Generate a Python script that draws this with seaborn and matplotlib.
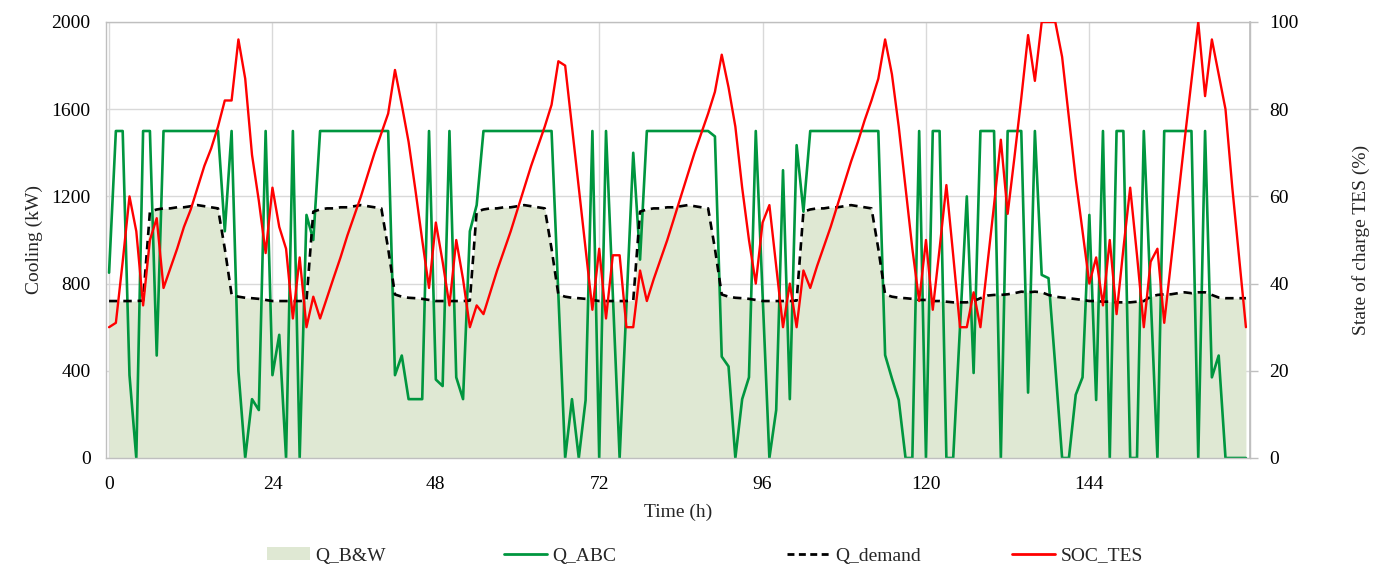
import matplotlib
matplotlib.use("Agg")
import matplotlib.pyplot as plt
import seaborn as sns
import numpy as np
from matplotlib.patches import Patch
from matplotlib.lines import Line2D

# ---------------- data (hourly, 0..167 h) ----------------
hours = list(range(168))

# Q_ABC (kW), one list per day
q_abc_d1 = [850, 1500, 1500, 380, 0, 1500, 1500, 470, 1500, 1500, 1500, 1500,
            1500, 1500, 1500, 1500, 1500, 1040, 1500, 400, 0, 270, 220, 1500]
q_abc_d2 = [380, 565, 0, 1500, 0, 1115, 1000, 1500, 1500, 1500, 1500, 1500,
            1500, 1500, 1500, 1500, 1500, 1500, 380, 470, 270, 270, 270, 1500]
q_abc_d3 = [360, 330, 1500, 370, 270, 1040, 1160, 1500, 1500, 1500, 1500, 1500,
            1500, 1500, 1500, 1500, 1500, 1500, 750, 0, 270, 0, 265, 1500]
q_abc_d4 = [0, 1500, 750, 0, 700, 1400, 910, 1500, 1500, 1500, 1500, 1500,
            1500, 1500, 1500, 1500, 1500, 1475, 465, 420, 0, 270, 370, 1500]
q_abc_d5 = [750, 0, 220, 1320, 270, 1435, 1130, 1500, 1500, 1500, 1500, 1500,
            1500, 1500, 1500, 1500, 1500, 1500, 472, 365, 266, 0, 0, 1500]
q_abc_d6 = [0, 1500, 1500, 0, 0, 600, 1200, 390, 1500, 1500, 1500, 0,
            1500, 1500, 1500, 300, 1500, 840, 825, 420, 0, 0, 290, 370]
q_abc_d7 = [1115, 266, 1500, 0, 1500, 1500, 0, 0, 1500, 750, 0, 1500,
            1500, 1500, 1500, 1500, 0, 1500, 370, 470, 0, 0, 0, 0]

# Q_demand (kW), one list per day
q_dem_d1 = [720, 720, 720, 720, 720, 722, 1130, 1140, 1145, 1145, 1150, 1150,
            1155, 1160, 1155, 1150, 1145, 960, 750, 740, 735, 733, 730, 725]
q_dem_d2 = [720, 720, 720, 720, 720, 722, 1130, 1140, 1145, 1145, 1150, 1150,
            1155, 1160, 1155, 1150, 1145, 960, 750, 740, 735, 733, 730, 725]
q_dem_d3 = [720, 720, 720, 720, 720, 722, 1130, 1140, 1145, 1145, 1150, 1150,
            1155, 1160, 1155, 1150, 1145, 960, 750, 740, 735, 733, 730, 725]
q_dem_d4 = [720, 720, 720, 720, 720, 722, 1130, 1140, 1145, 1145, 1150, 1150,
            1155, 1160, 1155, 1150, 1145, 960, 750, 740, 735, 733, 730, 725]
q_dem_d5 = [720, 720, 720, 720, 720, 722, 1130, 1140, 1145, 1145, 1150, 1150,
            1155, 1160, 1155, 1150, 1145, 960, 750, 740, 735, 733, 730, 725]
q_dem_d6 = [725, 720, 720, 717, 714, 714, 714, 720, 733, 745, 748, 748,
            751, 756, 763, 760, 763, 760, 748, 740, 736, 733, 729, 725]
q_dem_d7 = [720, 720, 717, 717, 714, 714, 714, 717, 720, 740, 748, 751,
            751, 756, 760, 756, 760, 760, 748, 736, 733, 733, 733, 733]

# Q_B&W (kW) – area, follows the demand curve
q_bw_d1 = q_dem_d1
q_bw_d2 = q_dem_d2
q_bw_d3 = q_dem_d3
q_bw_d4 = q_dem_d4
q_bw_d5 = q_dem_d5
q_bw_d6 = q_dem_d6
q_bw_d7 = q_dem_d7

# SOC_TES (%), one list per day
soc_d1 = [30, 31, 45, 60, 52, 35, 50, 55, 39, 43.5, 48, 53,
          57, 62, 67, 71, 76, 82, 82, 96, 87, 69.5, 59, 47]
soc_d2 = [62, 53, 48, 32, 46, 30, 37, 32, 36.7, 41.4, 46, 51,
          55.5, 60, 65, 70, 74.5, 79, 89, 81, 72.5, 61.5, 50, 39]
soc_d3 = [54, 45, 35, 50, 41, 30, 35, 33, 38, 43, 47.5, 52,
          57, 62, 67, 71.5, 76, 81, 91, 90, 76, 62, 48, 34]
soc_d4 = [48, 32, 46.5, 46.5, 30, 30, 43, 36, 41, 45.5, 50, 55,
          60, 65, 70, 74.5, 79, 84, 92.5, 85, 76, 62, 50, 40]
soc_d5 = [54, 58, 44, 30, 40, 30, 43, 39, 44, 48.5, 53, 58,
          63, 68, 72.5, 77.5, 82, 87, 96, 88, 76, 62, 48, 36]
soc_d6 = [50, 34, 48, 62.6, 46.5, 30, 30, 38, 30, 44, 58, 73,
          56, 69, 82.5, 97, 86.5, 100, 100, 100, 92, 78, 64, 52]
soc_d7 = [40, 46, 35, 50, 33, 48, 62, 46.5, 30, 45, 48, 31,
          45, 59, 73, 86.5, 100, 83, 96, 88, 80, 62, 46, 30]

q_abc = q_abc_d1 + q_abc_d2 + q_abc_d3 + q_abc_d4 + q_abc_d5 + q_abc_d6 + q_abc_d7
q_demand = q_dem_d1 + q_dem_d2 + q_dem_d3 + q_dem_d4 + q_dem_d5 + q_dem_d6 + q_dem_d7
q_bw = q_bw_d1 + q_bw_d2 + q_bw_d3 + q_bw_d4 + q_bw_d5 + q_bw_d6 + q_bw_d7
soc_tes = soc_d1 + soc_d2 + soc_d3 + soc_d4 + soc_d5 + soc_d6 + soc_d7

x_ticks = [0, 24, 48, 72, 96, 120, 144]
y_left_ticks = [0, 400, 800, 1200, 1600, 2000]
y_right_ticks = [0, 20, 40, 60, 80, 100]
legend_labels = ["Q_B&W", "Q_ABC", "Q_demand", "SOC_TES"]

# ---------------- style ----------------
sns.set_theme(style="white")
plt.rcParams["font.family"] = ["Liberation Serif", "DejaVu Serif"]
FS = 14

C_FILL = "#DFE8D3"
C_GREEN = "#00963F"
C_RED = "#FF0000"
C_GRID = "#D9D9D9"

W, H = 1383, 567
fig = plt.figure(figsize=(W / 100, H / 100), dpi=100)
ax = fig.add_axes([106 / W, 1 - 458 / H, (1250 - 106) / W, (458 - 22) / H])

ax.fill_between(hours, q_bw, 0, color=C_FILL, linewidth=0, zorder=1)
sns.lineplot(x=hours, y=q_demand, ax=ax, color="black", linewidth=1.9,
             linestyle=(0, (3.2, 2.2)), zorder=3)
sns.lineplot(x=hours, y=q_abc, ax=ax, color=C_GREEN, linewidth=1.9, zorder=2)

ax.set_xlim(-0.45, 167.6)
ax.set_ylim(0, 2000)
ax.set_xticks(x_ticks)
ax.set_yticks(y_left_ticks)
ax.set_xticklabels([str(t) for t in x_ticks], fontsize=FS)
ax.set_yticklabels([str(t) for t in y_left_ticks], fontsize=FS)
ax.tick_params(axis="both", length=0, colors="black")
ax.tick_params(axis="y", pad=11)
ax.tick_params(axis="x", pad=13)
ax.grid(True, color=C_GRID, linewidth=1.0)
ax.set_axisbelow(True)
for s in ax.spines.values():
    s.set_color("#BFBFBF")
    s.set_linewidth(1.0)
ax.set_xlabel("Time (h)", fontsize=FS, labelpad=8)
ax.set_ylabel("Cooling (kW)", fontsize=FS, labelpad=6)

ax2 = ax.twinx()
sns.lineplot(x=hours, y=soc_tes, ax=ax2, color=C_RED, linewidth=1.7, zorder=4)
ax2.set_ylim(0, 100)
ax2.set_yticks(y_right_ticks)
ax2.set_yticklabels([str(t) for t in y_right_ticks], fontsize=FS)
ax2.tick_params(axis="y", length=6, width=1.0, color="#BFBFBF", pad=8, colors="black")
ax2.tick_params(axis="y", which="major", color="#BFBFBF")
ax2.grid(False)
for s in ax2.spines.values():
    s.set_visible(False)
ax2.spines["right"].set_visible(True)
ax2.spines["right"].set_color("#BFBFBF")
ax2.set_ylabel("State of charge TES (%)", fontsize=FS, labelpad=38)
ax2.set_xlim(-0.45, 167.6)

# ---------------- legend (four entries along the bottom) ----------------
handles = [
    Patch(facecolor=C_FILL, edgecolor="none"),
    Line2D([0], [0], color=C_GREEN, linewidth=2.0),
    Line2D([0], [0], color="black", linewidth=2.0, linestyle=(0, (2.5, 1.6))),
    Line2D([0], [0], color=C_RED, linewidth=2.0),
]
x_starts = [267, 504, 787, 1012]
for hnd, lab, xs in zip(handles, legend_labels, x_starts):
    fig.legend([hnd], [lab], loc="center left", bbox_to_anchor=(xs / W, 1 - 556 / H),
               frameon=False, fontsize=FS, borderpad=0, borderaxespad=0,
               handlelength=2.2, handletextpad=0.3, handleheight=0.6)

fig.savefig("out.png", dpi=100)
